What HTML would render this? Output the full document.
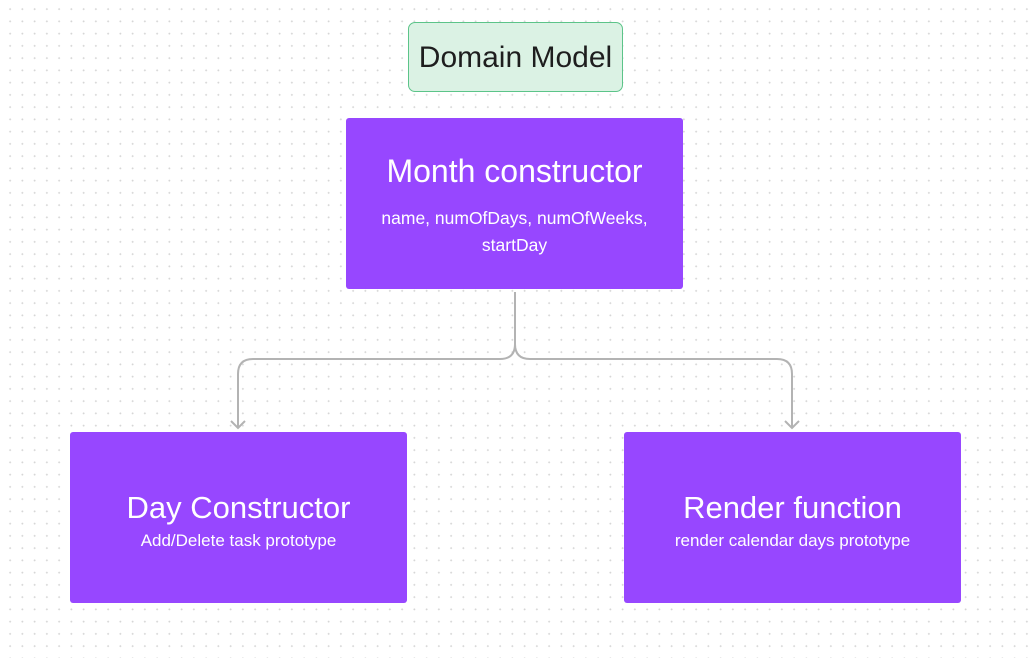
<!DOCTYPE html>
<html><head><style>
body{margin:0;width:1033px;height:658px;overflow:hidden;background:#fff;font-family:"Liberation Sans",sans-serif;
background-image:radial-gradient(circle,#d6d6d6 0.9px,transparent 1.1px);background-size:12.25px 12.25px;background-position:4px 3px;position:relative}
.b{position:absolute;background:#9747ff;color:#fff;border-radius:3px;text-align:center;box-sizing:border-box}
.t{font-size:31px}
.s{font-size:17px}
</style></head><body>
<div style="position:absolute;left:408px;top:22px;width:215px;height:70px;background:#dbf2e4;border:1px solid #5cc489;border-radius:7px;box-sizing:border-box;font-size:30px;color:#1e1e1e;text-align:center;line-height:70px">Domain Model</div>
<div class="b" style="left:346px;top:118px;width:337px;height:171px"><div class="t" style="margin-top:35px;font-size:32px">Month constructor</div><div class="s" style="margin-top:15px;line-height:27px;font-size:17.5px">name, numOfDays, numOfWeeks,<br>startDay</div></div>
<div class="b" style="left:70px;top:432px;width:337px;height:171px"><div class="t" style="margin-top:58px">Day Constructor</div><div class="s" style="margin-top:5px">Add/Delete task prototype</div></div>
<div class="b" style="left:624px;top:432px;width:337px;height:171px"><div class="t" style="margin-top:58px">Render function</div><div class="s" style="margin-top:5px">render calendar days prototype</div></div>
<svg width="1033" height="658" style="position:absolute;left:0;top:0" fill="none" stroke="#b3b3b3" stroke-width="2">
<path d="M515 292 V344 Q515 359 500 359 H253 Q238 359 238 374 V428"/>
<path d="M515 344 Q515 359 530 359 H777 Q792 359 792 374 V428"/>
<path d="M231 421 L238 428 L245 421"/>
<path d="M785 421 L792 428 L799 421"/>
</svg>
</body></html>
